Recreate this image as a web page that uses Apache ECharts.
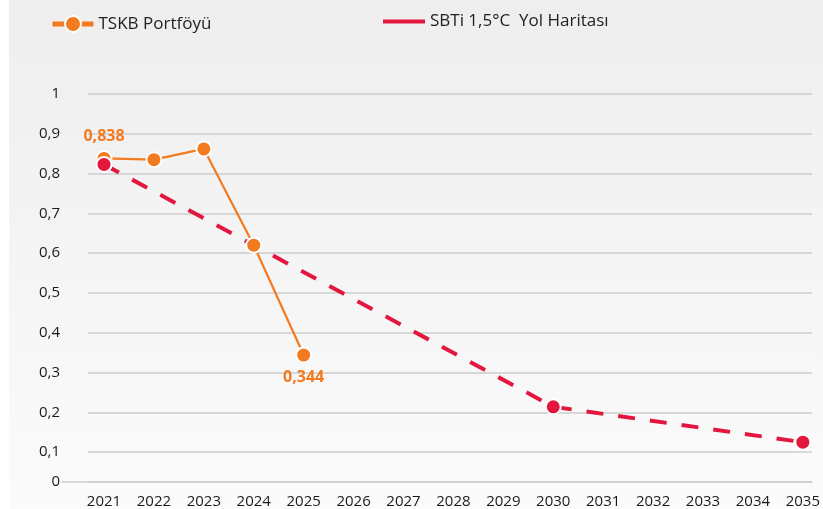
<!DOCTYPE html>
<html>
<head>
<meta charset="utf-8">
<script src="https://cdn.jsdelivr.net/npm/echarts@6/dist/echarts.min.js"></script>
<style>
  html, body { margin: 0; padding: 0; background: #fff; }
  #chart { width: 823px; height: 509px; }
</style>
</head>
<body>
<div id="chart"></div>
<script>
// data
const years = ["2021", "2022", "2023", "2024", "2025", "2026", "2027", "2028",
  "2029", "2030", "2031", "2032", "2033", "2034", "2035"];
const tskb = [0.838, 0.835, 0.862, 0.62, 0.344, null, null, null, null, null,
  null, null, null, null, null];
const sbti = [0.823, null, null, null, null, null, null, null, null, 0.214,
  null, null, null, null, 0.125];

const ORANGE = "#f47a20";
const RED = "#e3173e";
const FONT = "Open Sans";

const chart = echarts.init(document.getElementById("chart"));

// only the first and last TSKB values get a label
const labelPos = { 0: "top", 4: "bottom" };
const tskbData = tskb.map((v, i) => ({
  value: v,
  label: labelPos[i] ? { show: true, position: labelPos[i] } : { show: false },
}));

const yRange = { min: 0.025, max: 1, splitNumber: 10 };

const option = {
  animation: false,
  backgroundColor: "#fff",
  graphic: [
    {
      type: "rect",
      z: -10,
      silent: true,
      shape: { x: 9, y: 0, width: 814, height: 509 },
      style: {
        fill: new echarts.graphic.LinearGradient(0, 0, 0, 1, [
          { offset: 0, color: "#eeeeee" },
          { offset: 1, color: "#fbfbfb" },
        ]),
      },
    },
  ],
  legend: [
    {
      left: 50,
      top: 15,
      padding: 0,
      itemWidth: 41,
      itemHeight: 20,
      data: ["TSKB Portföyü"],
      lineStyle: { width: 5 },
      textStyle: { fontFamily: FONT, fontSize: 17, color: "#222" },
    },
    {
      left: 383,
      top: 13,
      padding: 0,
      itemWidth: 42,
      itemHeight: 4,
      data: [{ name: "SBTi 1,5°C  Yol Haritası", icon: "rect" }],
      itemStyle: { borderWidth: 0, color: RED },
      textStyle: { fontFamily: FONT, fontSize: 17, color: "#222" },
    },
  ],
  grid: [
    { left: 62, right: 11, top: 94, bottom: 27 }, // baseline only
    { left: 88, right: 11, top: 94, bottom: 27 }, // y labels + split lines
    { left: 104, right: 19, top: 94, bottom: 27 }, // series
  ],
  xAxis: [
    {
      gridIndex: 0,
      type: "category",
      data: years,
      axisLine: { show: true, lineStyle: { color: "#cdcdcd", width: 1.5 } },
      axisTick: { show: false },
      axisLabel: { show: false },
    },
    { gridIndex: 1, type: "category", data: years, show: false },
    {
      gridIndex: 2,
      type: "category",
      data: years,
      boundaryGap: false,
      axisLine: { show: false },
      axisTick: { show: false },
      axisLabel: {
        margin: 12,
        fontFamily: FONT,
        fontSize: 15,
        color: "#1a1a1a",
      },
    },
  ],
  yAxis: [
    Object.assign({ gridIndex: 0, type: "value", show: false }, yRange),
    Object.assign(
      {
        gridIndex: 1,
        type: "value",
        axisLine: { show: false },
        axisTick: { show: false },
        splitLine: { show: true, lineStyle: { color: "#cdcdcd", width: 1.5 } },
        axisLabel: {
          margin: 28,
          fontFamily: FONT,
          fontSize: 15,
          color: "#1a1a1a",
          formatter: (v) => {
            if (v < 0.05) return "0";
            if (v > 0.99) return "1";
            return v.toFixed(1).replace(".", ",");
          },
        },
      },
      yRange
    ),
    Object.assign({ gridIndex: 2, type: "value", show: false }, yRange),
  ],
  series: [
    {
      name: "SBTi 1,5°C  Yol Haritası",
      type: "line",
      xAxisIndex: 2,
      yAxisIndex: 2,
      z: 2,
      data: sbti,
      connectNulls: true,
      symbol: "none",
      lineStyle: { color: RED, width: 4, type: [17, 15] },
      itemStyle: { color: RED },
    },
    {
      name: "TSKB Portföyü",
      type: "line",
      xAxisIndex: 2,
      yAxisIndex: 2,
      z: 3,
      data: tskbData,
      symbol: "circle",
      symbolSize: 15,
      lineStyle: { color: ORANGE, width: 2.2 },
      itemStyle: { color: ORANGE, borderColor: "#fff", borderWidth: 2 },
      label: {
        distance: 6,
        fontFamily: FONT,
        fontSize: 16,
        fontWeight: "bold",
        color: ORANGE,
        formatter: (p) => p.value.toFixed(3).replace(".", ","),
      },
    },
    {
      // red markers drawn on top of everything
      name: "SBTi 1,5°C  Yol Haritası",
      type: "line",
      xAxisIndex: 2,
      yAxisIndex: 2,
      z: 4,
      data: sbti,
      connectNulls: true,
      symbol: "circle",
      symbolSize: 15,
      lineStyle: { opacity: 0 },
      itemStyle: { color: RED, borderColor: "#fff", borderWidth: 2 },
    },
  ],
};

chart.setOption(option);
</script>
</body>
</html>
